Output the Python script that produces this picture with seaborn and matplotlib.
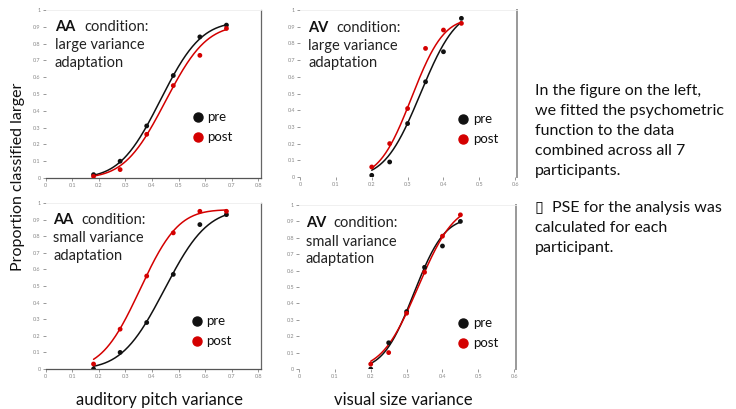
import math
import numpy as np
import pandas as pd
import matplotlib
matplotlib.use("Agg")
import matplotlib.pyplot as plt
import seaborn as sns
from matplotlib.lines import Line2D

sns.set_style("white")
plt.rcParams['font.family'] = ['Lato', 'DejaVu Sans']

# stimulus levels
aa_x = [0.18, 0.28, 0.38, 0.48, 0.58, 0.68]
av_x = [0.20, 0.25, 0.30, 0.35, 0.40, 0.45]

# proportion classified larger
aa_large_pre = [0.02, 0.10, 0.31, 0.61, 0.84, 0.91]
aa_large_post = [0.01, 0.05, 0.26, 0.55, 0.73, 0.89]
av_large_pre = [0.01, 0.09, 0.32, 0.57, 0.75, 0.95]
av_large_post = [0.06, 0.20, 0.41, 0.77, 0.88, 0.92]
aa_small_pre = [0.00, 0.10, 0.28, 0.57, 0.87, 0.93]
aa_small_post = [0.03, 0.24, 0.56, 0.82, 0.95, 0.95]
av_small_pre = [0.00, 0.16, 0.35, 0.62, 0.75, 0.90]
av_small_post = [0.03, 0.10, 0.34, 0.59, 0.81, 0.94]

# fitted psychometric functions: PSE, sigma, upper asymptote
fit_aa_large_pre = [0.432, 0.120, 0.93]
fit_aa_large_post = [0.450, 0.121, 0.91]
fit_av_large_pre = [0.336, 0.078, 1.00]
fit_av_large_post = [0.311, 0.070, 0.95]
fit_aa_small_pre = [0.447, 0.126, 0.96]
fit_aa_small_post = [0.355, 0.113, 0.96]
fit_av_small_pre = [0.320, 0.067, 0.92]
fit_av_small_post = [0.332, 0.079, 1.00]

aa_ticks = [0, 0.1, 0.2, 0.3, 0.4, 0.5, 0.6, 0.7, 0.8]
av_ticks = [0, 0.1, 0.2, 0.3, 0.4, 0.5, 0.6]
y_ticks = [0, 0.1, 0.2, 0.3, 0.4, 0.5, 0.6, 0.7, 0.8, 0.9, 1]

notes_1 = ['In the figure on the left,', 'we fitted the psychometric',
           'function to the data', 'combined across all 7', 'participants.']
notes_2 = ['\u25af  PSE for the analysis was', 'calculated for each', 'participant.']

PRE = '#111111'
POST = '#d40000'
W, H = 736, 409


def curve(xs, fit):
    mu, sd, top = fit
    return [top * 0.5 * (1 + math.erf((v - mu) / (sd * math.sqrt(2)))) for v in xs]


def fig_rect(x0, x1, y_top, y_bot):
    return [x0 / W, 1 - y_bot / H, (x1 - x0) / W, (y_bot - y_top) / H]


panels = [
    dict(rect=fig_rect(45.7, 261, 10, 178), xlim=0.81, ticks=aa_ticks, x=aa_x,
         pre=aa_large_pre, post=aa_large_post, fpre=fit_aa_large_pre, fpost=fit_aa_large_post,
         tag='AA', var='large variance', tx=(0.043, 0.178), ty=[0.899, 0.792, 0.685],
         leg=(0.707, 0.363, 0.244), bottom=True),
    dict(rect=fig_rect(300, 517, 10, 177), xlim=0.605, ticks=av_ticks, x=av_x,
         pre=av_large_pre, post=av_large_post, fpre=fit_av_large_pre, fpost=fit_av_large_post,
         tag='AV', var='large variance', tx=(0.037, 0.166), ty=[0.892, 0.786, 0.683],
         leg=(0.751, 0.347, 0.228), bottom=False),
    dict(rect=fig_rect(45.7, 261, 203, 369), xlim=0.81, ticks=aa_ticks, x=aa_x,
         pre=aa_small_pre, post=aa_small_post, fpre=fit_aa_small_pre, fpost=fit_aa_small_post,
         tag='AA', var='small variance', tx=(0.034, 0.168), ty=[0.899, 0.79, 0.678],
         leg=(0.702, 0.29, 0.169), bottom=True),
    dict(rect=fig_rect(299, 516, 205, 369), xlim=0.605, ticks=av_ticks, x=av_x,
         pre=av_small_pre, post=av_small_post, fpre=fit_av_small_pre, fpost=fit_av_small_post,
         tag='AV', var='small variance', tx=(0.032, 0.157), ty=[0.888, 0.776, 0.67],
         leg=(0.756, 0.28, 0.159), bottom=False),
]

fig = plt.figure(figsize=(W / 100, H / 100), dpi=100)

for p in panels:
    ax = fig.add_axes(p['rect'])
    xs = np.linspace(p['x'][0], p['x'][-1], 200)
    for key, fkey, col in [('pre', 'fpre', PRE), ('post', 'fpost', POST)]:
        fit_df = pd.DataFrame({'x': xs, 'y': curve(xs, p[fkey])})
        sns.lineplot(data=fit_df, x='x', y='y', ax=ax, color=col, lw=1.1)
        pts = pd.DataFrame({'x': p['x'], 'y': p[key]})
        sns.scatterplot(data=pts, x='x', y='y', ax=ax, color=col, s=12,
                        edgecolor='none', zorder=5)

    ax.set_xlim(0, p['xlim'])
    ax.set_ylim(0, 1)
    ax.set_xticks(p['ticks'])
    ax.set_xticklabels([f'{t:g}' for t in p['ticks']])
    ax.set_yticks(y_ticks)
    ax.set_yticklabels([f'{t:g}' for t in y_ticks])
    ax.set_xlabel('')
    ax.set_ylabel('')
    ax.tick_params(axis='both', labelsize=4, colors='#888888', length=2, width=0.6, pad=1.5)
    ax.tick_params(axis='y', left=True, direction='out')
    ax.tick_params(axis='x', bottom=True, direction='out')

    ax.spines['left'].set_visible(False)
    ax.spines['top'].set_color('#eeeeee')
    ax.spines['top'].set_linewidth(0.6)
    ax.spines['right'].set_color('#666666' if p['bottom'] else '#999999')
    ax.spines['right'].set_linewidth(0.9 if p['bottom'] else 1.4)
    if p['bottom']:
        ax.spines['bottom'].set_color('#555555')
        ax.spines['bottom'].set_linewidth(0.9)
    else:
        ax.spines['bottom'].set_visible(False)

    # condition label
    ax.text(p['tx'][0], p['ty'][0], p['tag'], transform=ax.transAxes, fontsize=10.5,
            fontweight='bold', va='center', ha='left', color='#111111')
    ax.text(p['tx'][1], p['ty'][0], 'condition:', transform=ax.transAxes, fontsize=10.5,
            va='center', ha='left', color='#222222')
    ax.text(p['tx'][0], p['ty'][1], p['var'], transform=ax.transAxes, fontsize=10.5,
            va='center', ha='left', color='#222222')
    ax.text(p['tx'][0], p['ty'][2], 'adaptation', transform=ax.transAxes, fontsize=10.5,
            va='center', ha='left', color='#222222')

    # legend
    lx, ly_pre, ly_post = p['leg']
    for ly, lab, col in [(ly_pre, 'pre', PRE), (ly_post, 'post', POST)]:
        ax.add_line(Line2D([lx], [ly], transform=ax.transAxes, marker='o', ms=6.5,
                           color=col, ls='none', clip_on=False))
        ax.text(lx + 0.045, ly, lab, transform=ax.transAxes, fontsize=9.5,
                va='center', ha='left', color='#111111')

fig.text(18 / W, 1 - 177 / H, 'Proportion classified larger', rotation=90,
         fontsize=11.5, ha='center', va='center', color='#111111')
fig.text(160 / W, 1 - 400 / H, 'auditory pitch variance', fontsize=12,
         ha='center', va='center', color='#111111')
fig.text(403 / W, 1 - 400 / H, 'visual size variance', fontsize=12,
         ha='center', va='center', color='#111111')

# explanatory notes, one text per line
for i, line in enumerate(notes_1):
    fig.text(535 / W, 1 - (91 + 20 * i) / H, line, fontsize=11.5,
             ha='left', va='center', color='#111111')
for i, line in enumerate(notes_2):
    fig.text(535 / W, 1 - (208 + 20 * i) / H, line, fontsize=11.5,
             ha='left', va='center', color='#111111')

fig.savefig('out.png', dpi=100)
